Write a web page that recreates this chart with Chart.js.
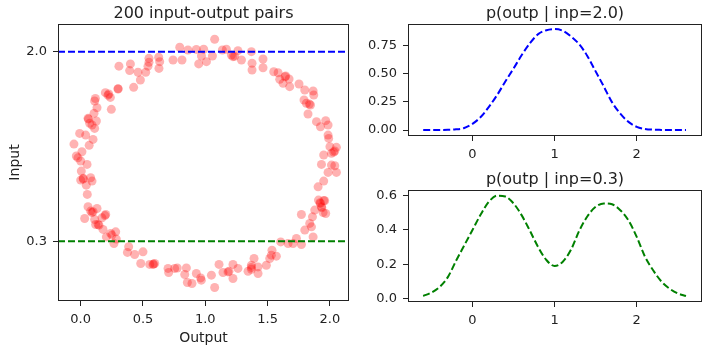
<!DOCTYPE html>
<html>
<head>
<meta charset="utf-8">
<script src="https://cdn.jsdelivr.net/npm/chart.js@4.4.1/dist/chart.umd.min.js"></script>
<style>
  body { margin: 0; background: #fff; }
  .wrap { position: relative; width: 712px; height: 352px; }
  canvas { position: absolute; }
</style>
</head>
<body>
<div class="wrap">
  <canvas id="pairs" width="360" height="352" style="left:0;top:0"></canvas>
  <canvas id="high" width="352" height="166" style="left:360px;top:0"></canvas>
  <canvas id="low" width="352" height="186" style="left:360px;top:166px"></canvas>
</div>
<script>
// (output, input) pairs
const pairOutput = [
  0.795, 0.861, 0.928, 0.741, 0.813, 0.947, 0.548, 0.626, 0.548, 0.634,
  0.540, 0.628, 0.399, 0.307, 0.393, 0.460, 0.522, 0.479, 0.425, 0.300,
  0.198, 0.219, 0.238, 0.118, 0.112, 0.131, 0.246, 0.107, 0.059, 0.126,
  0.072, 0.091, 0.112, -0.008, 0.040, 0.099, -0.054, 0.010, -0.035,
  1.075, 0.987, 0.969, 1.009, 1.057, 1.137, 1.169, 1.209, 1.222, 1.262,
  1.290, 1.370, 1.375, 1.375, 1.463, 1.463, 1.549, 1.584, 1.597, 1.624,
  1.645, 1.672, 1.677, 1.752, 1.798, 1.865, 1.870, 1.792, 1.811, 1.844,
  1.824, 1.892, 1.924, 1.966, 1.985, 1.985, 1.990, 2.052, 2.039, 2.012, 1.950,
  -0.022, 0.000, 0.051, 0.005, 0.000, 0.021, 0.080, 0.091, 0.045, 0.053,
  0.059, 0.131, 0.080, 0.091, 0.032, 0.201, 0.171, 0.112, 0.120, 0.147,
  0.179, 0.241, 0.281, 0.206, 0.251, 0.267, 0.286, 0.385, 0.375, 0.433,
  0.500, 0.482, 0.554, 0.580, 0.594, 0.701, 0.706, 0.754, 0.848, 0.835,
  0.856, 0.893, 0.928, 0.963, 0.968,
  1.049, 1.075, 1.110, 1.142, 1.182, 1.222, 1.262, 1.222, 1.343, 1.370,
  1.370, 1.391, 1.423, 1.423, 1.490, 1.517, 1.530, 1.535, 1.570, 1.605,
  1.664, 1.704, 1.731, 1.771, 1.771, 1.798, 1.838, 1.852, 1.865, 1.860,
  1.878, 1.905, 1.908, 1.924, 1.932, 1.958, 1.945, 1.966, 1.950, 1.985,
  2.012, 2.039, 2.052, 1.932,
  0.585, 0.225, 1.835, 1.920, 1.950, 0.062, 0.020, 0.068, 1.235, 2.030,
  1.935, 0.100, 1.370, 0.140, 1.640, 0.300, 0.775, 0.195, 1.190, 2.000
];
const pairInput = [
  2.040, 2.015, 2.020, 1.925, 1.925, 1.890, 1.940, 1.950, 1.905, 1.910,
  1.870, 1.850, 1.890, 1.870, 1.830, 1.815, 1.815, 1.746, 1.680, 1.668,
  1.632, 1.610, 1.590, 1.580, 1.557, 1.497, 1.483, 1.447, 1.402, 1.378,
  1.357, 1.342, 1.312, 1.267, 1.252, 1.213, 1.171, 1.102, 1.064,
  2.111, 2.022, 1.961, 1.910, 1.961, 2.015, 2.022, 1.970, 1.955, 2.009,
  1.925, 2.000, 1.896, 1.836, 1.934, 1.856, 1.820, 1.811, 1.752, 1.716,
  1.782, 1.755, 1.686, 1.710, 1.656, 1.647, 1.611, 1.566, 1.537, 1.522,
  1.441, 1.372, 1.327, 1.381, 1.342, 1.252, 1.222, 1.142, 1.109, 1.088, 1.073,
  1.048, 1.019, 0.989, 0.929, 0.848, 0.864, 0.869, 0.839, 0.803, 0.720,
  0.609, 0.594, 0.570, 0.558, 0.504, 0.540, 0.510, 0.495, 0.450, 0.444,
  0.406, 0.370, 0.384, 0.339, 0.355, 0.280, 0.319, 0.250, 0.200, 0.181,
  0.205, 0.100, 0.092, 0.092, 0.100, 0.056, 0.020, 0.056, 0.061, 0.002,
  -0.070, -0.079, 0.011, -0.029, -0.049,
  -0.004, -0.115, 0.092, 0.020, 0.025, 0.092, 0.056, -0.034, 0.031, 0.085,
  0.049, 0.145, 0.070, 0.011, 0.085, 0.145, 0.175, 0.220, 0.166, 0.294,
  0.280, 0.280, 0.325, 0.271, 0.540, 0.400, 0.460, 0.429, 0.339, 0.519,
  0.579, 0.788, 0.669, 0.639, 0.609, 0.663, 0.558, 0.549, 0.839, 0.917,
  0.983, 0.977, 0.917, 0.989,
  0.095, 1.620, 1.530, 0.645, 0.665, 1.395, 0.858, 1.160, 1.958, 1.100,
  0.600, 0.565, 0.065, 0.450, 1.775, 1.665, 0.060, 0.530, 0.030, 1.148
];

// conditional densities, read every 0.1 along the output axis
const outpGrid = [
  -0.6, -0.5, -0.4, -0.3, -0.2, -0.1, 0.0, 0.1, 0.2, 0.3, 0.4,
  0.5, 0.6, 0.7, 0.8, 0.9, 1.0, 1.1, 1.2, 1.3, 1.4, 1.5,
  1.6, 1.7, 1.8, 1.9, 2.0, 2.1, 2.2, 2.3, 2.4, 2.5, 2.6
];
const densInp20 = [
  0.000, 0.000, 0.001, 0.002, 0.006, 0.018, 0.055, 0.115, 0.205, 0.310, 0.430,
  0.545, 0.665, 0.770, 0.850, 0.885, 0.895, 0.880, 0.830, 0.760, 0.655, 0.520,
  0.385, 0.245, 0.145, 0.072, 0.028, 0.010, 0.003, 0.001, 0.000, 0.000, 0.000
];
const densInp03 = [
  0.015, 0.035, 0.068, 0.125, 0.220, 0.310, 0.400, 0.490, 0.565, 0.600, 0.595,
  0.555, 0.485, 0.395, 0.300, 0.225, 0.190, 0.215, 0.285, 0.395, 0.480, 0.535,
  0.555, 0.550, 0.515, 0.455, 0.360, 0.245, 0.165, 0.100, 0.058, 0.030, 0.015
];

const inputLevels = [0.3, 2.0];
const pairsXTicks = [0, 0.5, 1, 1.5, 2];
const densXTicks = [0, 1, 2];
const highYTicks = [0, 0.25, 0.5, 0.75];
const lowYTicks = [0, 0.2, 0.4, 0.6];

Chart.defaults.font.family = "'DejaVu Sans', sans-serif";
Chart.defaults.font.size = 13;
Chart.defaults.color = '#222';
Chart.defaults.animation = false;
Chart.defaults.responsive = false;
Chart.defaults.plugins.legend.display = false;
Chart.defaults.plugins.tooltip.enabled = false;

// matplotlib style box round the plot area, title centred over it
const frame = {
  id: 'frame',
  afterDraw(chart, args, opts) {
    const a = chart.chartArea, ctx = chart.ctx;
    ctx.save();
    ctx.strokeStyle = '#222';
    ctx.lineWidth = 1;
    ctx.strokeRect(Math.round(a.left) + 0.5, Math.round(a.top) + 0.5,
      Math.round(a.right - a.left) - 1, Math.round(a.bottom - a.top) - 1);
    ctx.fillStyle = '#222';
    ctx.font = "16px 'DejaVu Sans', sans-serif";
    ctx.textAlign = 'center';
    ctx.textBaseline = 'middle';
    ctx.fillText(opts.text, (a.left + a.right) / 2, a.top - 10);
    ctx.restore();
  }
};

function axis(min, max, ticks, size, fmt) {
  return {
    type: 'linear', min: min, max: max,
    afterBuildTicks: s => { s.ticks = ticks.map(v => ({ value: v })); },
    afterFit: s => { if (s.isHorizontal()) s.height = size; else s.width = size; },
    grid: { drawOnChartArea: false, tickLength: 5, color: '#222' },
    border: { display: false },
    ticks: { padding: 6, maxRotation: 0, autoSkip: false, callback: v => v.toFixed(fmt) }
  };
}

const pxMin = -0.182, pxMax = 2.153;
const levelColors = ['#008000', '#0000ff'];

const pairsData = pairOutput.map((x, i) => ({ x: x, y: pairInput[i] }));
const levelSets = inputLevels.map((lv, i) => ({
  type: 'line',
  data: [{ x: pxMin, y: lv }, { x: pxMax, y: lv }],
  borderColor: levelColors[i],
  borderWidth: 2,
  borderDash: [7, 3],
  pointRadius: 0,
  order: 0
}));

const pairsX = axis(pxMin, pxMax, pairsXTicks, 51, 1);
pairsX.title = { display: true, text: 'Output', color: '#222', font: { size: 14 }, padding: { top: 0, bottom: 5 } };
const pairsY = axis(-0.236, 2.248, inputLevels, 58, 1);
pairsY.title = { display: true, text: 'Input', color: '#222', font: { size: 14 }, padding: { top: 7, bottom: 0 } };

new Chart(document.getElementById('pairs'), {
  type: 'scatter',
  data: {
    datasets: [{
      data: pairsData,
      backgroundColor: 'rgba(255, 0, 0, 0.3)',
      borderWidth: 0,
      pointRadius: 4.5,
      order: 1
    }].concat(levelSets)
  },
  options: {
    layout: { padding: { top: 24, right: 11 } },
    plugins: { frame: { text: '200 input-output pairs' } },
    scales: { x: pairsX, y: pairsY }
  },
  plugins: [frame]
});

function densChart(id, values, color, label, yMin, yMax, yTicks, yFmt, xSize) {
  new Chart(document.getElementById(id), {
    type: 'line',
    data: {
      datasets: [{
        data: outpGrid.map((x, i) => ({ x: x, y: values[i] })),
        borderColor: color,
        borderWidth: 2,
        borderDash: [7, 3],
        pointRadius: 0,
        cubicInterpolationMode: 'monotone'
      }]
    },
    options: {
      layout: { padding: { top: 24, right: 10 } },
      plugins: { frame: { text: label } },
      scales: {
        x: axis(-0.785, 2.795, densXTicks, xSize, 0),
        y: axis(yMin, yMax, yTicks, 48, yFmt)
      }
    },
    plugins: [frame]
  });
}

densChart('high', densInp20, '#0000ff', 'p(outp | inp=2.0)', -0.053, 0.94, highYTicks, 2, 30);
densChart('low', densInp03, '#008000', 'p(outp | inp=0.3)', -0.02, 0.633, lowYTicks, 1, 50);
</script>
</body>
</html>
